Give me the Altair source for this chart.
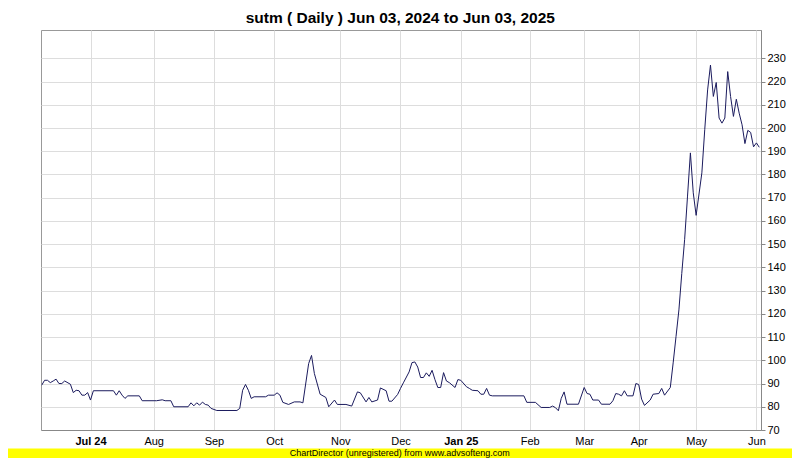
import altair as alt
import pandas as pd

# ---- data (x = trading-session index, y = close) ----
session = [0, 1, 2, 3, 4, 5, 6, 7, 8, 10, 11, 12, 13, 14, 15, 16, 17, 18, 25, 26,
           27, 28, 29, 30, 34, 35, 40, 42, 43, 45, 46, 51, 52, 53, 54, 55, 56, 57, 58, 59,
           61, 68, 69, 70, 71, 72, 73, 74, 78, 79, 81, 82, 83, 84, 86, 88, 90, 91, 93, 94,
           95, 97, 99, 100, 102, 103, 106, 108, 110, 111, 113, 114, 115, 117, 118, 120, 121, 122, 124, 125,
           126, 128, 129, 130, 131, 132, 133, 134, 135, 136, 137, 138, 139, 140, 141, 142, 144, 145, 146, 148,
           149, 150, 152, 153, 154, 155, 156, 157, 168, 169, 172, 174, 177, 178, 179, 180, 181, 182, 183, 187,
           189, 190, 191, 192, 194, 195, 198, 199, 200, 201, 202, 203, 204, 206, 207, 208, 209, 210, 212, 213,
           215, 216, 217, 219, 220, 221, 222, 223, 224, 225, 226, 227, 228, 230, 231, 232, 233, 234, 235, 236,
           237, 238, 239, 240, 241, 242, 243, 244, 245, 246, 247, 248, 249, 250]
close = [89.3, 91.4, 91.4, 90.4, 91.1, 91.9, 90.0, 90.0, 91.1, 89.7, 86.1, 87.1, 86.9, 85.0, 85.0, 86.1, 82.9, 86.9, 86.9, 85.0,
         86.9, 85.0, 83.6, 84.7, 84.7, 82.6, 82.6, 83.0, 82.6, 82.6, 80.0, 80.0, 81.7, 80.4, 81.7, 80.7, 82.0, 81.0, 80.7, 79.3,
         78.4, 78.4, 79.3, 87.1, 89.6, 87.1, 83.6, 84.3, 84.3, 85.0, 85.0, 86.0, 85.0, 81.9, 81.0, 82.1, 82.1, 81.7, 98.6, 102.1,
         94.3, 85.4, 84.0, 80.0, 82.9, 81.0, 81.0, 80.3, 86.4, 86.0, 82.1, 84.0, 82.1, 82.9, 88.1, 86.9, 82.4, 82.4, 85.3, 87.9,
         90.3, 95.0, 99.0, 99.3, 97.1, 92.6, 92.6, 94.6, 93.1, 95.7, 91.7, 88.3, 88.3, 94.7, 91.1, 90.4, 88.3, 91.7, 91.4, 88.6,
         87.9, 87.1, 86.9, 85.4, 85.4, 87.9, 85.0, 84.7, 84.7, 81.9, 81.9, 79.7, 79.7, 80.3, 79.6, 78.3, 83.6, 86.4, 81.1, 81.1,
         88.3, 85.7, 85.4, 82.9, 82.9, 81.1, 81.1, 82.6, 85.7, 85.4, 84.7, 86.9, 84.7, 84.7, 90.0, 89.6, 83.3, 80.6, 82.9, 85.4,
         85.7, 87.9, 85.0, 88.3, 98.9, 110.3, 121.7, 137.4, 152.1, 170.7, 189.3, 172.1, 162.4, 180.7, 199.3, 216.4, 227.1, 213.6, 219.6, 204.3,
         202.1, 204.3, 224.3, 213.6, 205.0, 212.4, 206.4, 201.4, 193.3, 199.0, 198.1, 191.9, 193.6, 191.7]

tick_pos = [17, 39, 60, 81, 104, 125, 146, 170, 189, 208, 228, 249]
tick_labels = ["Jul 24", "Aug", "Sep", "Oct", "Nov", "Dec", "Jan 25", "Feb", "Mar", "Apr", "May", "Jun"]
y_ticks = [70, 80, 90, 100, 110, 120, 130, 140, 150, 160, 170, 180, 190, 200, 210, 220, 230]

title_text = "sutm ( Daily ) Jun 03, 2024 to Jun 03, 2025"
footer_text = "ChartDirector (unregistered) from www.advsofteng.com"

df = pd.DataFrame({"session": session, "close": close})

FONT = "Liberation Sans"
label_expr = ("[" + ",".join("'" + l + "'" for l in tick_labels) + "][indexof(["
              + ",".join(str(p) for p in tick_pos) + "], datum.value)]")
bold_test = " || ".join("datum.value == %d" % p for p, l in zip(tick_pos, tick_labels) if " " in l)

line = alt.Chart(df).mark_line(color="#1b1b5e", strokeWidth=1).encode(
    x=alt.X("session:Q",
            scale=alt.Scale(domain=[-0.25, 250.6], nice=False, zero=False),
            axis=alt.Axis(values=tick_pos, labelExpr=label_expr, title=None,
                          grid=True, gridColor="#dddddd", ticks=False, tickSize=0,
                          labelPadding=5, labelFontSize=11, labelFont=FONT, labelColor="#000000",
                          labelFontWeight={"condition": {"test": bold_test, "value": "bold"}, "value": "normal"},
                          domainColor="#888888", labelOverlap=False, labelFlush=False)),
    y=alt.Y("close:Q",
            scale=alt.Scale(domain=[70, 242.2], nice=False, zero=False),
            axis=alt.Axis(orient="right", values=y_ticks, title=None,
                          grid=True, gridColor="#dddddd", tickSize=4, tickColor="#888888",
                          labelPadding=2, labelFontSize=11, labelFont=FONT, labelColor="#000000",
                          domainColor="#888888", labelOverlap=False, labelFlush=False)),
)

title = alt.Chart(alt.Data(values=[{"t": title_text}])).mark_text(
    font=FONT, fontSize=15.5, fontWeight="bold", align="center", baseline="alphabetic", color="#000000"
).encode(x=alt.value(359.3), y=alt.value(-7.5), text="t:N")

footer_bar = alt.Chart(alt.Data(values=[{"a": 1}])).mark_rect(color="#ffff00").encode(
    x=alt.value(-33), x2=alt.value(751), y=alt.value(418.5), y2=alt.value(428)
)

footer = alt.Chart(alt.Data(values=[{"t": footer_text}])).mark_text(
    font=FONT, fontSize=9, align="center", baseline="alphabetic", color="#000000"
).encode(x=alt.value(358.8), y=alt.value(426), text="t:N")

chart = alt.layer(footer_bar, line, title, footer).properties(
    width=720, height=400,
    autosize=alt.AutoSizeParams(type="none"),
    padding={"left": 33, "top": 22, "right": 31, "bottom": 28},
).configure_view(stroke="#999999", strokeWidth=1)

chart.save("out.html", embed_options={"renderer": "svg", "actions": False})
